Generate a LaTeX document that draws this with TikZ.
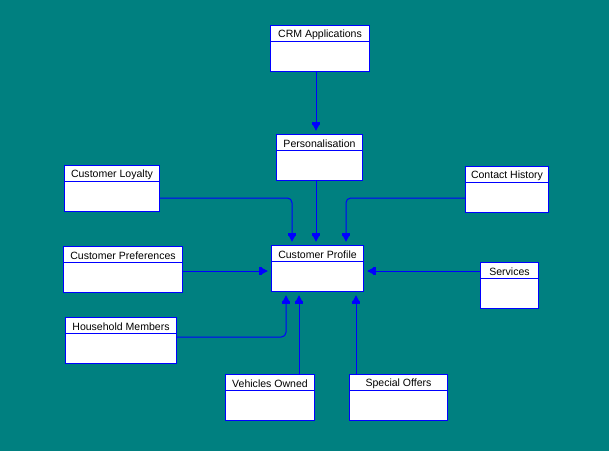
\documentclass[tikz,border=0pt]{standalone}
\usepackage{fontspec}
\setmainfont{Liberation Sans}
\usetikzlibrary{arrows.meta,calc}
\definecolor{bgteal}{HTML}{008080}
\definecolor{lineblue}{HTML}{0000FF}
\tikzset{
  entity/.style={draw=lineblue, fill=white, line width=0.75pt, inner sep=0pt, anchor=north west},
  title/.style={font=\fontsize{7.9}{8}\selectfont, text=black, inner sep=0pt},
  conn/.style={draw=lineblue, line width=0.75pt, rounded corners=3.5pt,
    -{Rectangle[length=2.2pt,width=5.6pt]Triangle[length=4.6pt,width=4.6pt,sep=0pt]}, shorten >=2.4pt},
}
\newcommand{\entitybox}[6]{%
  \node[entity, minimum width={(#4-#2)*0.75pt}, minimum height={(#5-#3)*0.75pt}] (#1) at (#2,#3) {};
  \draw[lineblue, line width=0.75pt] ($(#1.north west)+(0,16)$) -- ($(#1.north east)+(0,16)$);
  \node[title] at ($(#1.north)+(0,9.3)$) {#6};
}
\begin{document}
\begin{tikzpicture}[x=0.75pt,y=-0.75pt]
\fill[bgteal] (0,0) rectangle (609,451);
\useasboundingbox (0,0) rectangle (609,451);
\entitybox{crm}{270}{25}{369}{71}{CRM Applications}
\entitybox{pers}{276}{134}{362}{180}{Personalisation}
\entitybox{loyal}{64}{165}{159}{211}{Customer Loyalty}
\entitybox{contact}{465}{166}{548}{212}{Contact History}
\entitybox{pref}{63}{246}{182}{292}{Customer Preferences}
\entitybox{prof}{271}{245}{363}{291}{Customer Profile}
\entitybox{serv}{480}{262}{538}{308}{Services}
\entitybox{house}{65}{317}{176}{363}{Household Members}
\entitybox{veh}{225}{374}{314}{420}{Vehicles Owned}
\entitybox{spec}{349}{374}{447}{420}{Special Offers}
% connectors
\draw[conn] ($(crm.south west)+(46,0)$) -- ($(pers.north west)+(40,0)$);
\draw[conn] ($(pers.south west)+(40,0)$) -- ($(prof.north west)+(45,0)$);
\draw[conn] ($(loyal.north east)+(0,33)$) -| ($(prof.north west)+(21,0)$);
\draw[conn] ($(contact.north west)+(0,32)$) -| ($(prof.north west)+(75,0)$);
\draw[conn] ($(pref.north east)+(0,25)$) -- ($(prof.north west)+(0,26)$);
\draw[conn] ($(serv.north west)+(0,9)$) -- ($(prof.north east)+(0,26)$);
\draw[conn] ($(house.north east)+(0,20)$) -| ($(prof.south west)+(15,0)$);
\draw[conn] ($(veh.north west)+(74,0)$) -- ($(prof.south west)+(28,0)$);
\draw[conn] ($(spec.north west)+(7,0)$) -- ($(prof.south west)+(85,0)$);
\end{tikzpicture}
\end{document}
